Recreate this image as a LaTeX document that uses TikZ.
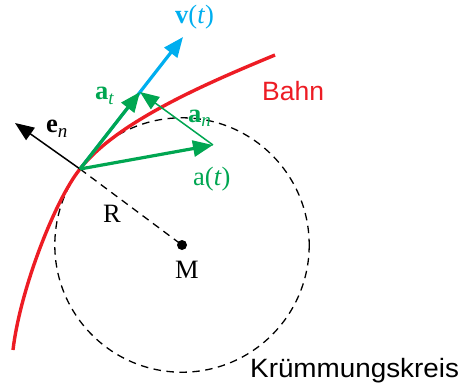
\documentclass[tikz,border=0pt]{standalone}
\usepackage{fontspec}
\setmainfont{Liberation Serif}
\setsansfont{Liberation Sans}
\usetikzlibrary{arrows.meta}
\definecolor{cyanv}{RGB}{0,174,239}
\definecolor{greena}{RGB}{0,166,81}
\definecolor{redb}{RGB}{237,28,36}
\newcommand{\lbl}{\fontsize{26.5}{30}\selectfont}
\newcommand{\sbl}[1]{\raisebox{-5pt}{\fontsize{19}{20}\selectfont\itshape #1}}
\tikzset{
  thickarrow/.style={line width=3.2pt,-{Triangle[length=20pt,width=16pt]}},
  thinarrow/.style={line width=1.5pt,-{Triangle[length=19pt,width=15pt]}},
  dashline/.style={dash pattern=on 7.5pt off 5.5pt,line width=1.3pt},
  lab/.style={inner sep=0pt,anchor=base west,font=\lbl},
  slab/.style={inner sep=0pt,anchor=base west,font=\sffamily\fontsize{26.5}{30}\selectfont}
}
\begin{document}
\begin{tikzpicture}[x=1pt,y=-1pt]
\useasboundingbox (0,0) rectangle (460,385);
% points
\coordinate (P) at (80,169);
\coordinate (Mc) at (182,245);
\coordinate (V) at (183,37);
\coordinate (AT) at (140,92);
\coordinate (A) at (213,145);
\coordinate (EN) at (15,123);
\coordinate (B0) at (13,350);
\coordinate (B1) at (275,55);
% circle
\draw[dashline] (Mc) circle (127.2);
\draw[dashline] (P) -- (Mc);
% curve
\draw[redb,line width=3.4pt] (B0) .. controls (20,290) and (55,200) .. (P)
  .. controls (118,120) and (215,80) .. (B1);
% arrows
\draw[thinarrow,black] (P) -- (EN);
\draw[thickarrow,cyanv] (P) -- (V);
\draw[thickarrow,greena] (P) -- (AT);
\draw[thickarrow,greena] (P) -- (A);
\draw[thinarrow,greena] (A) -- (AT);
\fill (Mc) circle (5);
% labels
\node[lab,cyanv] (lv) at (175,24) {{\bfseries v}(\textit{t})};
\node[lab,greena] (lat) at (95,100) {{\bfseries a}\sbl{t}};
\node[lab,greena] (lan) at (188,122) {{\bfseries a}\sbl{n}};
\node[lab,greena] (la) at (193,185) {a(\textit{t})};
\node[lab] (len) at (46,132) {{\bfseries e}\sbl{n}};
\node[lab] (lR) at (103,222) {R};
\node[lab] (lM) at (175,278) {M};
\node[slab,redb] (lB) at (262,101) {Bahn};
\node[slab] (lK) at (250,377) {\scalebox{1.05}[1]{Krümmungskreis}};
\end{tikzpicture}
\end{document}
